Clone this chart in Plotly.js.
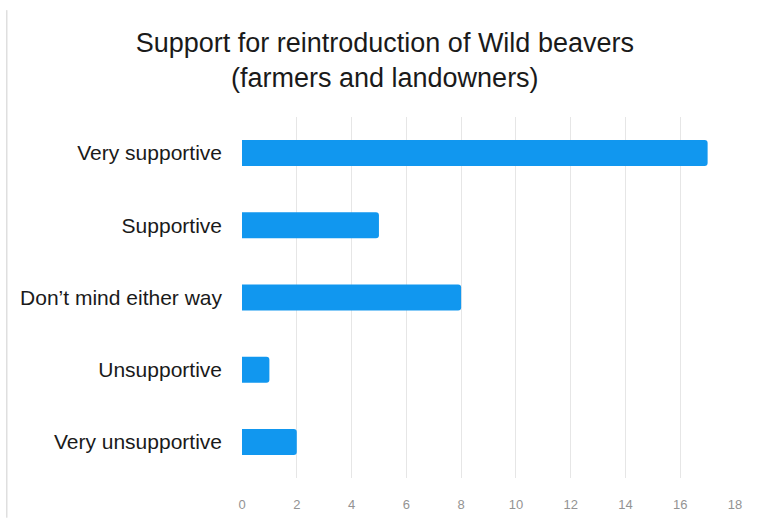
<!DOCTYPE html>
<html>
<head>
<meta charset="utf-8">
<script src="https://cdn.plot.ly/plotly-3.0.1.min.js"></script>
<style>html,body{margin:0;padding:0;background:#fff;}#chart{width:759px;height:518px;}</style>
</head>
<body>
<div id="chart"></div>
<script>
const categories = ["Very supportive", "Supportive", "Don’t mind either way", "Unsupportive", "Very unsupportive"];
const counts = [17, 5, 8, 1, 2];
const tickValues = [0, 2, 4, 6, 8, 10, 12, 14, 16, 18];
const tickLabels = ["0", "2", "4", "6", "8", "10", "12", "14", "16", "18"];

const trace = {
  type: "bar",
  orientation: "h",
  y: categories,
  x: counts,
  marker: {color: "#1197ef"},
  hoverinfo: "x+y"
};

const layout = {
  width: 759, height: 518,
  margin: {l: 242, r: 24, t: 117, b: 40},
  paper_bgcolor: "#ffffff",
  plot_bgcolor: "#ffffff",
  font: {family: "Liberation Sans, Arial, sans-serif"},
  title: {
    text: "Support for reintroduction of Wild beavers<br>(farmers and landowners)",
    font: {size: 27, color: "#1a1a1a"},
    x: 0.507, xanchor: "center", y: 0.9, yanchor: "middle"
  },
  bargap: 0.64,
  barcornerradius: 3,
  xaxis: {
    range: [0, 18],
    tickvals: tickValues,
    ticktext: tickLabels,
    showgrid: true, gridcolor: "#e6e6e6", gridwidth: 1,
    zeroline: false, showline: false,
    ticks: "", ticklabelstandoff: 17,
    tickfont: {size: 13, color: "#939393"}
  },
  yaxis: {
    autorange: "reversed",
    showgrid: false, zeroline: false, showline: false,
    ticks: "", ticklabelstandoff: 19,
    tickfont: {size: 21, color: "#1a1a1a"}
  },
  shapes: [
    {type: "line", xref: "paper", yref: "paper", x0: -0.477, x1: -0.477, y0: -0.11, y1: 1.296,
     line: {color: "#cfcfcf", width: 1}}
  ],
  showlegend: false
};

Plotly.newPlot("chart", [trace], layout, {displayModeBar: false, staticPlot: true});
</script>
</body>
</html>
